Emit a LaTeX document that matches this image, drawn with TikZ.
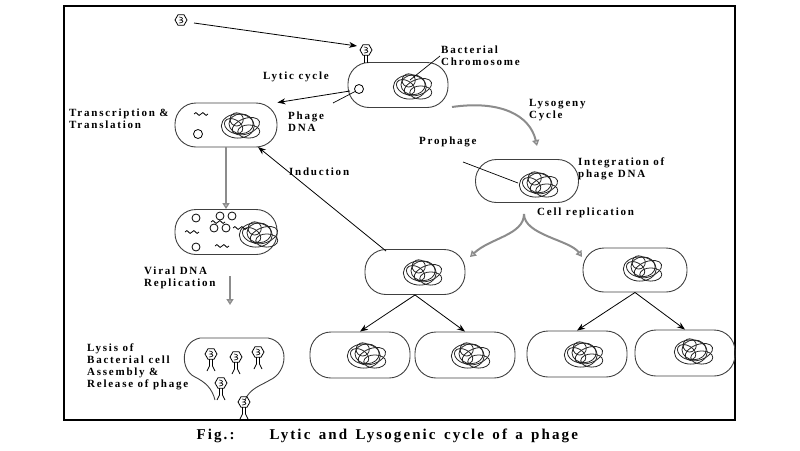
\documentclass[tikz,border=0pt]{standalone}
\usepackage{fontspec}
\setmainfont{Liberation Serif}
\newfontfamily\lsp[LetterSpace=16]{Liberation Serif}
\newfontfamily\lcp[LetterSpace=14]{Liberation Serif}
\usetikzlibrary{arrows.meta}
\begin{document}
\begin{tikzpicture}[x=1pt,y=-1pt,
  cell/.style={draw=black!75,line width=0.9pt,rounded corners=21pt},
  lbl/.style={font=\lsp\bfseries\fontsize{11}{12}\selectfont,align=left,inner sep=1pt},
  arr/.style={-{Stealth[length=8pt,width=6pt]},line width=0.8pt},
  garr/.style={-{Triangle[open,length=6pt,width=7pt]},draw=black!45,line width=2pt},
  chr/.style={draw=black!85,line width=0.8pt}]
\useasboundingbox (0,0) rectangle (800,450);
\newcommand\chromo[2]{%
  \begin{scope}[shift={(#1,#2)},scale=1.1]
  \draw[chr] (-2,0) ellipse (15 and 11);
  \draw[chr] (1,-2) ellipse (11 and 9);
  \draw[chr,rotate=20] (5,2) ellipse (13 and 7);
  \draw[chr,rotate=-30] (-5,3) ellipse (9 and 6);
  \draw[chr] (8,5) ellipse (10 and 6);
  \draw[chr] (-3,-6) circle (6);
  \end{scope}}
\newcommand\phg[3]{%
  \begin{scope}[shift={(#1,#2)}]
  \draw[line width=0.8pt] (0:6)--(60:6)--(120:6)--(180:6)--(240:6)--(300:6)--cycle;
  \draw[line width=0.6pt] (-2,-3) .. controls (3,-3) and (2,0) .. (-1,0) .. controls (3,0) and (3,3) .. (-2,3);
  \ifnum#3=1 \draw[line width=0.7pt] (-1.5,5)--(-1.5,12) (1.5,5)--(1.5,12) (-1.5,12)--(-4,17) (1.5,12)--(4,17);\fi
  \end{scope}}
\newcommand\squig[2]{\draw[line width=0.8pt] (#1-7,#2) .. controls +(3,-5) and +(-3,5) .. (#1,#2) .. controls +(3,-5) and +(-3,5) .. (#1+7,#2);}
\draw[line width=1.2pt] (64,6) rectangle (735,420);
% cells
\node[cell,minimum width=100pt,minimum height=45pt] (c1) at (398,85) {};
\node[cell,minimum width=102pt,minimum height=44pt] (c2) at (226,125) {};
\node[cell,minimum width=102pt,minimum height=45pt] (c3) at (226,232) {};
\node[cell,minimum width=103pt,minimum height=43pt] (c4) at (527,181) {};
\node[cell,minimum width=100pt,minimum height=45pt] (g1) at (415,272) {};
\node[cell,minimum width=104pt,minimum height=44pt] (g2) at (635,270) {};
\node[cell,minimum width=100pt,minimum height=46pt] (h1) at (360,355) {};
\node[cell,minimum width=100pt,minimum height=46pt] (h2) at (465,355) {};
\node[cell,minimum width=100pt,minimum height=46pt] (h3) at (577,354) {};
\node[cell,minimum width=100pt,minimum height=46pt] (h4) at (685,353) {};
% lysis cell (open)
\draw[draw=black!75,line width=0.9pt] (245,400) .. controls (250,388) and (262,385) .. (270,380) .. controls (288,372) and (290,342) .. (268,338) -- (200,338) .. controls (180,342) and (180,370) .. (195,377) .. controls (205,382) and (212,388) .. (215,400);
\phg{211}{354}{1}\phg{236}{357}{1}\phg{258}{352}{1}\phg{221}{383}{1}\phg{244}{402}{1}
% chromosomes
\chromo{412}{87}\chromo{240}{126}\chromo{258}{235}\chromo{538}{185}
\chromo{422}{273}\chromo{642}{269}\chromo{366}{356}\chromo{470}{356}\chromo{583}{355}\chromo{693}{352}
% plasmids
\draw[line width=0.8pt] (359,89) circle (4.5) (198,134) circle (4.5);
\foreach \p in {(196,218),(214,228),(226,228),(220,216),(196,247),(232,216)} \draw[line width=0.8pt] \p circle (4);
\squig{201}{114}\squig{192}{232}\squig{218}{222}\squig{222}{246}\squig{240}{228}
% phages
\phg{181}{20}{0}
\phg{366}{50}{0}
\draw[line width=0.8pt] (364.5,55)--(364.5,63) (367.5,55)--(367.5,63);
\coordinate (p0) at (194,23); \coordinate (p1) at (357,46);
\draw[arr] (p0) -- (p1);
% arrows
\draw[arr] (350,91) -- (c2.north east);
\coordinate (i0) at (386,251);
\draw[arr] (i0) -- (258,147);
\draw[garr] (c2.south) -- (c3.north);
\coordinate (v0) at (230,276); \coordinate (v1) at (230,305);
\draw[garr] (v0) -- (v1);
\coordinate (l0) at (452,107); \coordinate (l1) at (537,146);
\draw[garr] (l0) .. controls (500,100) and (530,115) .. (l1);
\coordinate (r0) at (524,214);
\draw[garr] (r0) .. controls (524,235) and (490,238) .. (470,257);
\draw[garr] (r0) .. controls (524,235) and (570,240) .. (582,257);
\draw[arr] (g1.south) -- (h1.north); \draw[arr] (g1.south) -- (h2.north);
\draw[arr] (g2.south) -- (h3.north); \draw[arr] (g2.south) -- (h4.north);
% pointer lines
\coordinate (b0) at (440,56); \coordinate (b1) at (410,80);
\draw[line width=0.7pt] (b0) -- (b1);
\coordinate (d0) at (333,103); \coordinate (d1) at (356,91);
\draw[line width=0.7pt] (d0) -- (d1);
\coordinate (q0) at (463,162); \coordinate (q1) at (518,183);
\draw[line width=0.7pt] (q0) -- (q1);
% labels
\node[lbl,anchor=west] (t1) at (440,56) {Bacterial\\Chromosome};
\node[lbl,anchor=west] (t2) at (262,77) {Lytic cycle};
\node[lbl,anchor=west] (t3) at (287,122) {Phage\\DNA};
\node[lbl,anchor=west] (t4) at (68,119) {Transcription \&\\Translation};
\node[lbl,anchor=west] (t5) at (288,172) {Induction};
\node[lbl,anchor=west] (t6) at (528,110) {Lysogeny\\Cycle};
\node[lbl,anchor=west] (t7) at (418,142) {Prophage};
\node[lbl,anchor=west] (t8) at (577,169) {Integration of\\phage DNA};
\node[lbl,anchor=west] (t9) at (536,213) {Cell replication};
\node[lbl,anchor=west] (t10) at (143,278) {Viral DNA\\Replication};
\node[lbl,anchor=west] (t11) at (86,367) {Lysis of\\Bacterial cell\\Assembly \&\\Release of phage};
\node[font=\lcp\bfseries\fontsize{15}{16}\selectfont,anchor=west] (cap0) at (193,436) {Fig.:};
\node[font=\lcp\bfseries\fontsize{15}{16}\selectfont,anchor=west] (cap) at (266,436) {Lytic\, and\, Lysogenic\, cycle\, of\, a\, phage};
\end{tikzpicture}
\end{document}
